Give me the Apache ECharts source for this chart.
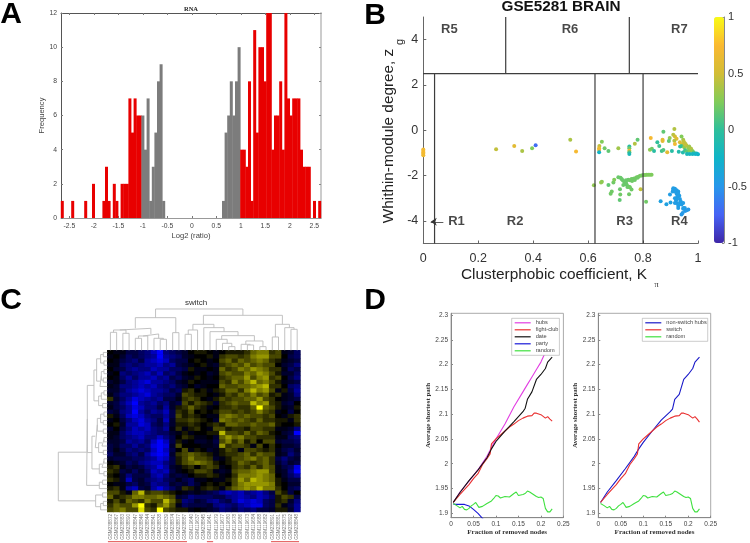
<!DOCTYPE html>
<html><head><meta charset="utf-8">
<style>html,body{margin:0;padding:0;background:#fff}#c{width:750px;height:543px;filter:blur(0.35px)}</style>
<script src="https://cdn.jsdelivr.net/npm/echarts@6/dist/echarts.min.js"></script>
</head><body><div id="c"></div>
<script>
// ---------- Panel A: histogram ----------
const histStart=-2.67, histBin=0.05306;
const histCounts=[1,0,0,0,1,0,0,0,0,1,0,0,2,0,0,0,1,3,1,0,2,1,0,2,2,2,7,5,7,6,6,6,4,7,1,3,5,8,9,1,
0,0,0,0,0,0,0,0,0,0,0,0,0,0,0,0,0,0,0,0,0,0,1,5,6,8,6,8,10,4,4,3,8,1,11,5,10,10,8,12,12,4,6,6,8,4,12,7,6,7,7,7,4,3,3,3,0,1,0,1];
const histTicks=[-2.5,-2,-1.5,-1,-0.5,0,0.5,1,1.5,2,2.5];

// ---------- Panel B: scatter [K, z, value] ----------
const ptsLeftEdge=[[0,-0.85,.7],[0,-0.92,.7],[0,-0.98,.72],[0,-1.04,.7],[0,-1.1,.68]];
const ptsMiddle=[[.265,-.84,.45],[.331,-.7,.6],[.36,-.92,.38],[.396,-.79,.25],[.409,-.66,-.7],[.535,-.42,.38],[.556,-.94,.72]];
const ptsUpper=[[.641,-.69,.45],[.65,-.51,.25],[.64,-.79,.65],[.64,-.87,.68],[.64,-.97,-.25],[.66,-.79,.2],[.674,-.92,.15],[.71,-.79,.35],
[.75,-.72,-.05],[.75,-.8,.2],[.75,-.9,.68],[.75,-.97,.1],[.75,-1.05,-.15],[.77,-.6,.4],[.78,-.42,.15],
[.828,-.34,.72],[.825,-.86,.3],[.832,-.82,.2],[.84,-.92,-.05],[.852,-.53,.0],[.859,-.69,.05],[.874,-.07,.15],[.871,-.42,.62],[.871,-.48,.6],[.868,-.92,.05],[.874,-.87,.1],[.888,-.97,.6],
[.897,-.34,.3],[.894,-.48,.15],[.905,-.92,-.05],[.914,.06,.4],[.91,-.2,.42],[.916,-.28,.5],[.922,-.38,.6],[.914,-.46,.4],[.916,-.61,.68],[.934,-.53,.55],[.94,-.28,.25],[.946,-.42,.35],[.952,-.57,.4],[.943,-.64,.5],
[.94,-.7,.1],[.95,-.75,.3],[.958,-.68,.4],[.965,-.8,.3],[.935,-.72,0],[.93,-.95,-.1],[.945,-.98,-.1],[.953,-.88,.05],[.96,-.95,.15],[.97,-.9,.25],[.975,-.82,.4],[.98,-.92,.3],[.985,-.98,.1],[.96,-1.05,-.15],[.97,-1.05,-.2],[.98,-1.05,-.2],[.99,-1.05,-.25],[.995,-1.03,-.2],[1,-1.06,-.25],[.948,-.5,.45],[.955,-.62,.45],[.968,-.72,.35]];
const ptsR3=[[.621,-2.43,.3],[.65,-2.27,.28],[.647,-2.31,.3],[.674,-2.42,.15],[.692,-2.31,.2],[.695,-2.18,.25],[.686,-2.7,.2],[.682,-2.8,.2],[.71,-2.08,.18],[.718,-2.1,.18],[.716,-2.6,.18],[.717,-2.84,.2],[.715,-3.08,.15],[.749,-2.83,.2],[.752,-2.52,.2],[.758,-2.62,.2],[.791,-2.6,.45],[.811,-3.16,.2],
[.738,-2.21,.18],[.746,-2.18,.18],[.752,-2.21,.2],[.758,-2.15,.2],[.765,-2.14,.2],[.771,-2.12,.2],[.777,-2.07,.22],[.783,-2.05,.22],[.789,-2.01,.22],[.795,-2,.22],[.801,-1.98,.22],[.807,-1.98,.24],[.813,-1.96,.24],[.819,-1.96,.24],[.825,-1.96,.24],[.831,-1.96,.24],
[.722,-2.15,.18],[.731,-2.26,.18],[.734,-2.36,.18],[.74,-2.4,.18],[.746,-2.48,.18],[.726,-2.21,.18],[.738,-2.29,.18],[.743,-2.5,.18],[.75,-2.5,.2],[.728,-2.42,.18],[.77,-2.2,.2],[.78,-2.1,.2],[.76,-2.24,.2]];
const ptsR4=[[.864,-3.14,-.42],[.885,-3.27,-.42],[.9,-3.19,-.42],[.898,-2.84,-.45],[.91,-2.56,-.45],[.916,-2.58,-.45],[.908,-2.7,-.45],[.922,-2.65,-.45],[.928,-2.7,-.45],[.922,-2.8,-.45],[.925,-2.92,-.45],[.916,-3,-.45],[.92,-3.09,-.45],[.932,-2.89,-.45],[.934,-3.03,-.45],[.937,-3.14,-.45],[.922,-3.21,-.45],[.928,-3.33,-.45],[.94,-3.28,-.45],[.946,-3.21,-.45],[.952,-3.43,-.45],[.946,-3.47,-.45],[.91,-2.62,-.45],[.916,-2.7,-.45],[.928,-2.77,-.45],[.922,-3.06,-.45],[.934,-3.21,-.45],[.916,-3.21,-.45],[.928,-3.43,-.45],[.947,-3.43,-.45],[.944,-3.65,-.48],[.953,-3.57,-.48],[.965,-3.5,-.48],[.959,-3.53,-.48],[.94,-3.72,-.48]];
const parula=['#3E26A8','#4663F5','#2797EB','#0FB4C8','#2EBF9B','#81CC59','#D2BD35','#FBB931','#F9FB15'];
const regionLines=[[0,2.5],[1,2.5],[null,null],[.041,-5],[.041,2.5],[null,null],[.625,-5],[.625,2.5],[null,null],[.8,-5],[.8,2.5],[null,null],[.3,2.5],[.3,5],[null,null],[.75,2.5],[.75,5]];
const regionLabels=[['R5',.095,4.44],['R6',.534,4.44],['R7',.932,4.44],['R1',.121,-4.01],['R2',.334,-4.01],['R3',.733,-4.01],['R4',.932,-4.01]];

// ---------- Panel C: heatmap, -9 blue .. 9 yellow ----------
const sampleLabels=['GSM238872','GSM238867','GSM238883','GSM238890','GSM238847','GSM238846','GSM238844','GSM238841','GSM238838','GSM238839','GSM238874','GSM238877','GSM238887','GSM119640','GSM119637','GSM238845','GSM119641','GSM119679','GSM119677','GSM119680','GSM119678','GSM119686','GSM119673','GSM119684','GSM119688','GSM119682','GSM238891','GSM238881','GSM238875','GSM238892','GSM238848'];
const heatRows=[
[0,-1,-1,-3,-3,-4,-5,-7,-9,-5,-4,-3,-2,0,1,1,0,-1,0,1,1,1,2,4,5,5,2,3,-1,-2,-4],
[-1,0,-2,-4,-3,-4,-5,-6,-9,-6,-5,-4,-2,-1,0,0,1,-1,2,3,3,2,3,5,6,6,3,3,0,-3,-4],
[0,-1,-3,-4,-5,-3,-6,-7,-8,-7,-4,-3,-3,0,1,0,-1,0,3,4,2,4,3,4,5,4,2,1,-1,-2,-3],
[-1,-1,-4,-5,-4,-5,-6,-6,-7,-5,-6,-3,-2,-1,0,1,-1,-2,2,3,4,3,5,3,4,3,3,0,-2,-3,-5],
[0,-2,-3,-5,-6,-5,-5,-7,-6,-6,-4,-4,-3,1,-1,-1,0,-1,4,2,3,5,4,6,5,4,2,2,-1,-4,-3],
[-1,0,-5,-4,-5,-6,-7,-5,-7,-4,-5,-3,-1,0,-1,0,-2,-1,3,4,3,3,5,4,6,5,3,1,-2,-2,-4],
[0,-1,-4,-6,-4,-6,-6,-7,-5,-6,-3,-4,-2,-1,1,0,-1,0,2,3,4,4,6,3,5,6,2,3,0,-3,-5],
[-2,-1,-3,-5,-6,-7,-8,-6,-6,-5,-4,-2,-1,1,0,-1,-1,-1,3,2,5,3,5,7,4,5,3,1,-1,-2,-3],
[-1,-2,-5,-5,-6,-7,-6,-7,-5,-4,-5,-3,-2,0,-2,-1,0,0,4,3,3,4,4,5,6,7,2,2,0,-4,-5],
[-2,-2,-4,-6,-7,-8,-7,-6,-6,-5,-3,-4,1,2,0,1,-1,1,2,4,4,2,5,7,5,6,3,-1,1,-3,-6],
[-1,-3,-5,-5,-6,-7,-8,-6,-5,-4,-4,-2,3,2,1,1,0,-1,1,3,2,4,3,5,3,4,1,2,-1,-2,-5],
[2,-2,-4,-6,-8,-7,-6,-5,-6,-3,-3,-1,2,3,2,0,-1,1,3,2,3,3,4,4,6,3,2,0,-1,-2,-3],
[-2,-3,-5,-7,-9,-6,-5,-6,-4,-5,-2,-3,3,1,3,2,1,-2,2,3,4,3,3,7,5,6,2,1,-2,-3,0],
[-1,-3,-4,-6,-8,-7,-5,-5,-3,-6,-2,1,2,4,2,1,-1,0,2,2,3,2,2,4,9,4,3,1,-1,-2,1],
[-3,-2,-5,-6,-9,-6,-4,-6,-5,-7,-3,2,1,3,0,1,0,1,3,3,2,3,2,3,5,3,2,-1,0,-3,0],
[1,-1,-4,-7,-8,-7,-5,-4,-4,-6,-3,3,1,2,1,0,-1,-1,4,5,4,3,4,3,3,2,3,0,-1,1,2],
[-1,0,-3,-5,-7,-8,-6,-5,-3,-7,-2,2,2,3,2,1,0,-2,5,4,3,4,3,2,4,2,2,1,1,-1,2],
[0,1,-2,-6,-6,-8,-7,-4,-3,-5,-2,1,1,2,1,0,1,2,1,4,4,3,3,4,3,3,4,1,0,0,1],
[-2,0,-3,-5,-7,-6,-7,-5,-4,-6,-1,2,-1,1,2,0,-1,3,3,1,2,2,1,3,3,2,2,-1,-1,-2,-5],
[-1,-1,-4,-6,-7,-7,-6,-5,-4,-4,-2,-1,1,-1,0,0,1,1,7,3,3,2,4,2,4,3,1,0,-2,-3,-9],
[-1,-2,-4,-5,-6,-7,-5,-5,-7,-5,-3,0,2,1,-1,-1,0,-2,4,6,4,5,3,3,2,2,2,-1,-1,-4,-5],
[-2,-2,-3,-6,-5,-6,-4,-7,-9,-7,-3,1,-1,0,-2,-2,-1,-3,3,5,2,4,1,3,0,3,3,-2,-3,-3,-4],
[-3,-2,-4,-4,-6,-4,-5,-8,-9,-8,-2,3,0,0,0,-1,-1,-2,6,2,3,3,2,-1,3,0,2,0,-2,-2,-3],
[-3,-1,-3,-5,-4,-5,-4,-7,-9,-7,-3,0,3,-1,1,0,-2,-1,1,3,2,-1,3,3,2,1,2,-1,-3,-4,-2],
[-4,-2,-2,-4,-5,-3,-6,-8,-9,-8,-2,2,3,4,3,2,1,-1,1,2,2,3,4,2,4,3,3,-1,-2,-5,-3],
[-2,-3,-3,-3,-4,-4,-5,-6,-8,-7,-3,1,3,5,3,3,2,-2,-1,1,3,3,4,5,3,4,2,-3,-5,-3,-2],
[0,-1,-2,-4,-3,-5,-6,-7,-7,-5,-3,1,3,4,5,4,3,1,0,1,2,4,3,2,3,4,2,-2,-4,-2,-3],
[1,2,-1,-3,-2,-3,-5,-6,-8,-6,-2,-1,1,2,0,2,3,2,-1,0,2,3,2,4,2,4,3,-1,-3,-4,-8],
[2,1,-3,-2,-4,-2,-4,-7,-6,-7,-3,-1,0,1,3,3,2,-1,-2,-1,3,4,4,5,6,6,3,-1,-2,-5,-9],
[1,0,-2,-5,-3,-3,-3,-6,-7,-5,-2,-3,-2,0,1,1,2,1,-1,0,2,5,5,5,6,5,4,0,-2,-4,-6],
[2,1,-2,-7,-3,-2,-4,-5,-6,-4,-3,-1,-3,-4,-1,-1,0,-1,-1,1,3,6,4,7,6,5,4,1,-1,-3,-3],
[0,-1,-1,-3,-4,-2,-3,-6,-5,-5,-2,-3,-2,-4,-2,0,1,0,1,0,3,5,6,6,6,6,5,1,0,-2,-2],
[1,2,-1,-6,-7,-3,-2,-6,-8,-6,-4,-2,2,1,-1,1,2,1,-1,2,4,5,6,5,7,5,5,2,0,-3,-4],
[3,3,1,-1,4,7,2,3,3,2,1,0,-1,-2,-1,-2,-3,-4,-6,-7,-6,-7,-5,-6,-7,-5,-3,3,1,-3,0],
[4,1,2,3,5,5,4,4,5,4,3,-2,-3,-5,-4,-4,-4,-3,-3,-5,-6,-7,-6,-5,-7,-6,-4,1,3,2,-3],
[1,3,1,4,3,2,5,3,3,7,4,1,-5,-4,-2,-3,-5,-6,-4,-3,-6,-8,-7,-8,-7,-4,-3,1,2,-2,-5],
[2,4,3,3,6,9,2,1,4,6,3,-1,-4,-3,-3,-3,-2,-5,-6,-5,-4,-6,-7,-8,-8,-4,-3,2,-1,-3,-6],
[3,4,5,3,3,8,3,2,9,3,2,1,1,-1,0,-1,-2,-3,-5,-4,-3,-5,-4,-5,-3,-3,-2,1,1,-2,-6]
];
// dendrograms as linkage lists: [childA, childB, height]; leaves first, then merged nodes
const topLinks=[[0,1,54],[2,3,51],[31,32,61],[4,5,36],[34,6,43],[8,9,33],[7,36,36],[35,37,49],[33,38,66],[10,11,53],[39,40,98],[12,13,48],[42,14,61],[19,20,11],[18,44,21],[17,45,33],[22,23,16],[21,47,18],[24,25,11],[48,49,28],[46,50,44],[16,51,56],[15,52,68],[43,53,78],[26,27,40],[29,30,63],[28,56,68],[55,57,78],[54,58,105],[41,59,124]];
const sideLinks=[[0,1,12],[2,3,10],[38,39,20],[4,5,10],[6,7,12],[41,42,18],[43,8,22],[40,44,32],[9,10,10],[46,11,18],[12,13,14],[47,48,26],[45,49,40],[14,15,10],[16,17,12],[51,52,20],[18,19,12],[53,54,30],[20,21,10],[56,22,16],[23,24,12],[57,58,26],[55,59,36],[25,26,10],[61,27,16],[28,29,10],[62,63,24],[60,64,46],[50,65,60],[30,31,14],[67,32,24],[66,68,62],[33,34,14],[35,36,12],[71,37,20],[70,72,35],[69,73,147]];
const groupBars=[[.1,12.8],[16,17],[26.3,30.8]];

// ---------- Panel D: curves [fraction, path] ----------
const hubs=[[.005,1.922],[.02,1.943],[.04,1.965],[.06,1.988],[.08,2.015],[.09,2.033],[.1,2.05],[.12,2.08],[.14,2.115],[.16,2.145],[.17,2.16],[.18,2.175],[.19,2.19],[.2,2.205],[.21,2.225],[.225,2.25]];
const fightClub=[[.005,1.922],[.02,1.938],[.04,1.958],[.05,1.97],[.06,1.98],[.07,1.998],[.08,2.01],[.087,2.02],[.09,2.04],[.1,2.05],[.11,2.058],[.12,2.066],[.13,2.074],[.14,2.08],[.15,2.087],[.16,2.092],[.17,2.096],[.18,2.097],[.185,2.102],[.19,2.102],[.2,2.099],[.21,2.092],[.215,2.095],[.22,2.09],[.225,2.086]];
const dateHubs=[[.005,1.922],[.02,1.942],[.04,1.966],[.06,1.987],[.08,2.012],[.09,2.03],[.1,2.045],[.12,2.066],[.14,2.085],[.16,2.105],[.165,2.112],[.17,2.13],[.18,2.145],[.19,2.17],[.2,2.18],[.21,2.192],[.215,2.205],[.225,2.215]];
const partyHubs=[[.005,1.919],[.01,1.918],[.02,1.918],[.03,1.918],[.04,1.915],[.05,1.908],[.06,1.9],[.065,1.895],[.072,1.888]];
const randomNodes=[[.005,1.92],[.008,1.917],[.012,1.916],[.015,1.912],[.02,1.911],[.025,1.914],[.03,1.908],[.035,1.907],[.04,1.91],[.045,1.915],[.05,1.918],[.055,1.922],[.058,1.923],[.062,1.912],[.07,1.914],[.08,1.92],[.09,1.925],[.095,1.93],[.1,1.936],[.105,1.935],[.11,1.931],[.12,1.934],[.13,1.933],[.14,1.94],[.145,1.943],[.15,1.936],[.16,1.938],[.165,1.94],[.17,1.945],[.175,1.943],[.18,1.94],[.19,1.934],[.195,1.932],[.2,1.933],[.205,1.93],[.21,1.91],[.215,1.903],[.22,1.903],[.225,1.909]];
const nonSwitchHubs=[[.005,1.922],[.02,1.943],[.04,1.966],[.06,1.99],[.08,2.015],[.09,2.03],[.1,2.043],[.12,2.066],[.14,2.088],[.16,2.105],[.165,2.11],[.17,2.13],[.18,2.14],[.185,2.155],[.19,2.17],[.2,2.18],[.21,2.192],[.215,2.205],[.22,2.21],[.225,2.215]];
const switchHubs=[[.005,1.922],[.02,1.938],[.04,1.958],[.05,1.97],[.06,1.98],[.07,1.998],[.08,2.01],[.087,2.02],[.09,2.04],[.1,2.05],[.11,2.058],[.12,2.066],[.13,2.074],[.14,2.08],[.15,2.087],[.16,2.092],[.17,2.096],[.18,2.097],[.185,2.102],[.19,2.102],[.2,2.099],[.21,2.092],[.215,2.095],[.22,2.09],[.225,2.084]];
const fracTicks=[0,.05,.1,.15,.2,.25];
const pathTicks=[1.9,1.95,2,2.05,2.1,2.15,2.2,2.25,2.3];

// ---------- build ----------
const sans='"Liberation Sans",Arial,sans-serif', serif='"Liberation Serif",serif';
const grids=[],xAxes=[],yAxes=[],series=[];
function addGrid(g,x,y){grids.push(g);const i=grids.length-1;x.gridIndex=i;y.gridIndex=i;xAxes.push(x);yAxes.push(y);return{x:xAxes.length-1,y:yAxes.length-1,g:i};}
const hidden={show:false};
function dendro(n,links,horizontal){
  const pos=[],h=[];for(let i=0;i<n;i++){pos[i]=i+.5;h[i]=0;}
  const out=[];const pt=(p,v)=>horizontal?[v,p]:[p,v];
  links.forEach((l,k)=>{const a=l[0],b=l[1],id=n+k;pos[id]=(pos[a]+pos[b])/2;h[id]=l[2];
    out.push(pt(pos[a],h[a]),pt(pos[a],l[2]),pt(pos[b],l[2]),pt(pos[b],h[b]),[null,null]);});
  return out;
}
// A
const aLab={fontFamily:sans,fontSize:6.8,color:'#444',margin:5};
const aName={fontFamily:sans,fontSize:7.6,color:'#444'};
const A=addGrid({left:61,top:13,width:260,height:205},
 {type:'value',min:histStart,max:2.636,name:'Log2 (ratio)',nameLocation:'middle',nameGap:14,nameTextStyle:aName,
  axisLine:{show:true,onZero:false,lineStyle:{color:'#999'}},splitLine:hidden,axisLabel:Object.assign({customValues:histTicks},aLab),axisTick:{inside:true,length:2,customValues:histTicks,lineStyle:{color:'#777'}}},
 {type:'value',min:0,max:12,interval:2,name:'Frequency',nameLocation:'middle',nameGap:11,nameTextStyle:aName,
  axisLine:{show:true,onZero:false,lineStyle:{color:'#555'}},splitLine:hidden,axisLabel:Object.assign({},aLab,{margin:4}),axisTick:{inside:true,length:2,lineStyle:{color:'#777'}}});
xAxes.push({gridIndex:A.g,type:'value',position:'top',min:histStart,max:2.636,axisLine:{show:true,onZero:false,lineStyle:{color:'#555'}},splitLine:hidden,axisLabel:hidden,axisTick:{inside:true,length:2,customValues:histTicks,lineStyle:{color:'#777'}}});
yAxes.push({gridIndex:A.g,type:'value',position:'right',min:0,max:12,interval:2,axisLine:{show:true,onZero:false,lineStyle:{color:'#ccc',width:2}},splitLine:hidden,axisLabel:hidden,axisTick:{inside:true,length:2,lineStyle:{color:'#888'}}});
series.push({type:'bar',xAxisIndex:A.x,yAxisIndex:A.y,barWidth:3,animation:false,silent:true,
 data:histCounts.map((c,i)=>[histStart+histBin*(i+.5),c]).filter(d=>d[1]>0),
 itemStyle:{color:p=>Math.abs(p.value[0])<1?'#7c7c7c':'#e80000'}});
// B
const bLab={fontFamily:sans,fontSize:12.5,color:'#333'};
const B=addGrid({left:423.3,top:17,width:274.7,height:226.5},
 {type:'value',min:0,max:1,interval:.2,axisLine:{show:true,onZero:false,lineStyle:{color:'#666'}},splitLine:hidden,axisTick:{inside:true,length:3,lineStyle:{color:'#666'}},axisLabel:Object.assign({margin:8.5},bLab)},
 {type:'value',min:-5,max:5,axisLine:{show:true,onZero:false,lineStyle:{color:'#666'}},splitLine:hidden,axisTick:{inside:true,length:3,customValues:[-4,-2,0,2,4],lineStyle:{color:'#666'}},axisLabel:Object.assign({margin:5,customValues:[-4,-2,0,2,4]},bLab)});
const scatterIndex=series.length;
series.push({type:'scatter',name:'genes',xAxisIndex:B.x,yAxisIndex:B.y,symbolSize:4,silent:true,animation:false,clip:false,itemStyle:{opacity:1},
 data:[].concat(ptsLeftEdge,ptsMiddle,ptsUpper,ptsR3,ptsR4)});
series.push({type:'line',xAxisIndex:B.x,yAxisIndex:B.y,data:regionLines,showSymbol:false,symbol:'none',connectNulls:false,silent:true,animation:false,z:5,clip:false,lineStyle:{color:'#333',width:1.2,opacity:.95},
 markLine:{silent:true,animation:false,symbol:['none','arrow'],symbolSize:6,label:hidden,lineStyle:{color:'#333',width:.8,type:'solid'},data:[[{coord:[.073,-4.04]},{coord:[.027,-4.04]}]]}});
series.push({type:'scatter',xAxisIndex:B.x,yAxisIndex:B.y,symbolSize:1,silent:true,animation:false,z:6,itemStyle:{color:'transparent'},
 data:regionLabels.map(r=>({name:r[0],value:[r[1],r[2]]})),
 label:{show:true,position:'inside',formatter:'{b}',fontFamily:sans,fontWeight:'bold',fontSize:13,color:'#1a1a1a'}});
// colour bar scale
addGrid({left:714,top:17,width:10,height:226},{type:'value',show:false,min:0,max:1},
 {type:'value',min:-1,max:1,interval:.5,position:'right',axisLine:{show:true,onZero:false,lineStyle:{color:'#888'}},splitLine:hidden,axisTick:{inside:true,length:2,lineStyle:{color:'#888'}},
  axisLabel:{fontFamily:sans,fontSize:11,color:'#333',margin:4,formatter:v=>String(v)}});
// C
const C=addGrid({left:107.3,top:350.3,width:193,height:161.7,show:true,backgroundColor:'#000',borderWidth:0},
 {type:'category',data:sampleLabels,axisLine:hidden,axisTick:hidden,splitLine:hidden,axisLabel:{interval:0,rotate:90,fontFamily:sans,fontSize:4.6,color:'#777',margin:2}},
 {type:'category',data:heatRows.map((r,i)=>'g'+i),inverse:true,show:false,splitLine:hidden});
const heatIndex=series.length;
const heatData=[];heatRows.forEach((r,y)=>r.forEach((v,x)=>heatData.push([x,y,v])));
series.push({type:'heatmap',xAxisIndex:C.x,yAxisIndex:C.y,data:heatData,silent:true,animation:false,progressive:0});
const dTop=addGrid({left:107.3,top:305,width:193,height:45.3},{type:'value',show:false,min:0,max:31},{type:'value',show:false,min:0,max:136});
series.push({type:'line',xAxisIndex:dTop.x,yAxisIndex:dTop.y,data:dendro(31,topLinks,false),symbol:'none',connectNulls:false,silent:true,animation:false,clip:false,lineStyle:{color:'#bbb',width:.9}});
const dSide=addGrid({left:58.3,top:350.3,width:49,height:161.7},{type:'value',show:false,min:0,max:147,inverse:true},{type:'value',show:false,min:0,max:38,inverse:true});
series.push({type:'line',xAxisIndex:dSide.x,yAxisIndex:dSide.y,data:dendro(38,sideLinks,true),symbol:'none',connectNulls:false,silent:true,animation:false,clip:false,lineStyle:{color:'#bbb',width:.9}});
const bars=addGrid({left:107.3,top:541,width:193,height:1.4},{type:'value',show:false,min:0,max:31},{type:'value',show:false,min:0,max:1});
const barData=[];groupBars.forEach(b=>barData.push([b[0],.5],[b[1],.5],[null,null]));
series.push({type:'line',xAxisIndex:bars.x,yAxisIndex:bars.y,data:barData,symbol:'none',connectNulls:false,silent:true,animation:false,clip:false,lineStyle:{color:'#e04848',width:1}});
// D
const dLab={fontFamily:sans,fontSize:6.5,color:'#444'};
function dPanel(left){
  const xt={inside:true,length:2,customValues:fracTicks,lineStyle:{color:'#888'}},yt={inside:true,length:2,customValues:pathTicks,lineStyle:{color:'#888'}};
  return addGrid({left:left,top:313.3,width:112.4,height:204.4,show:true,borderColor:'#aaa',borderWidth:1},
  {type:'value',min:0,max:.25,name:'Fraction of removed nodes',nameLocation:'middle',nameGap:11,nameTextStyle:{fontFamily:serif,fontWeight:'bold',fontSize:7,color:'#333'},
   axisLine:{show:true,onZero:false,lineStyle:{color:'#888'}},splitLine:hidden,axisTick:xt,axisLabel:Object.assign({customValues:fracTicks,margin:3},dLab)},
  {type:'value',min:1.8912,max:2.3034,name:'Average shortest path',nameLocation:'middle',nameGap:16.5,nameTextStyle:{fontFamily:serif,fontWeight:'bold',fontSize:7,color:'#333'},
   axisLine:{show:true,onZero:false,lineStyle:{color:'#888'}},splitLine:hidden,axisTick:yt,axisLabel:Object.assign({customValues:pathTicks,margin:3},dLab)});
}
function curve(ax,name,data,color){series.push({type:'line',name:name,xAxisIndex:ax.x,yAxisIndex:ax.y,data:data,symbol:'none',showSymbol:false,silent:true,animation:false,lineStyle:{color:color,width:1.1},itemStyle:{color:color}});}
const D1=dPanel(451),D2=dPanel(598.3);
curve(D1,'hubs',hubs,'#e23ee2');curve(D1,'fight-club',fightClub,'#e93030');curve(D1,'date',dateHubs,'#111111');curve(D1,'party',partyHubs,'#1818d8');curve(D1,'random',randomNodes,'#3fe03f');
curve(D2,'non-switch hubs',nonSwitchHubs,'#1818c8');curve(D2,'switch',switchHubs,'#e93030');curve(D2,'random',randomNodes,'#3fe03f');
const legendBase={orient:'vertical',selectedMode:false,backgroundColor:'#fff',borderColor:'#aaa',borderWidth:.6,icon:'rect',itemWidth:16,itemHeight:1.2,itemGap:0,padding:[1,1,1,3],textStyle:{fontFamily:sans,fontSize:5.6,lineHeight:7,color:'#444'},z:8};
const legends=[Object.assign({left:511.7,top:318.3,data:['hubs','fight-club','date','party','random']},legendBase),
 Object.assign({left:642.3,top:318.3,data:['non-switch hubs','switch','random']},legendBase)];
function txt(t,x,y,font,fill,rot){return{type:'text',x:x,y:y,rotation:rot||0,silent:true,z:10,style:{text:t,font:font,fill:fill||'#111',align:'center',verticalAlign:'middle'}};}
const letterFont='bold 30px '+sans;
const graphic=[txt('A',11,15,letterFont,'#000'),txt('B',375,16,letterFont,'#000'),txt('C',11,301,letterFont,'#000'),txt('D',375,301,letterFont,'#000'),
 txt('RNA',191,9,'bold 6.5px '+serif,'#222'),
 txt('GSE5281 BRAIN',561,7,'bold 15.3px '+sans,'#111'),
 txt('Clusterphobic coefficient, K',554,275,'15.4px '+sans,'#222'),
 txt('\u03c0',656.5,285,'8px '+serif,'#222'),
 txt('Whithin-module degree, z',389,136,'15.3px '+sans,'#222',Math.PI/2),
 txt('g',400,42,'11px '+sans,'#222',Math.PI/2),
 txt('switch',196,303,'8px '+sans,'#333')];
const chart=echarts.init(document.getElementById('c'),null,{renderer:'canvas'});
chart.setOption({animation:false,backgroundColor:'#fff',grid:grids,xAxis:xAxes,yAxis:yAxes,series:series,legend:legends,graphic:graphic,
 visualMap:[
  {type:'continuous',seriesIndex:scatterIndex,dimension:2,min:-1,max:1,left:714,top:17,itemWidth:10,itemHeight:226,padding:0,calculable:false,realtime:false,hoverLink:false,inRange:{color:parula},show:true},
  {type:'continuous',seriesIndex:heatIndex,dimension:2,min:-9,max:9,show:false,inRange:{color:['#0000ff','#000098','#000044','#000000','#484800','#959500','#ffff00']}}
 ]});
</script></body></html>
